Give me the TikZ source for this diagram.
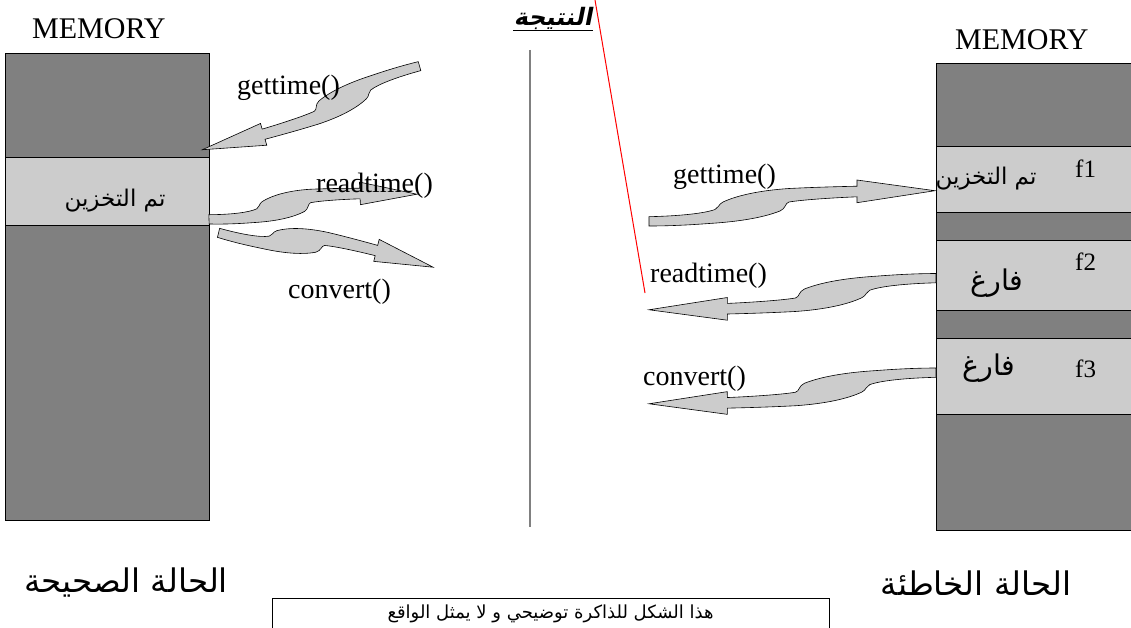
\documentclass[tikz,border=0pt]{standalone}
\usepackage{fontspec}
\setmainfont{Liberation Serif}
\newfontfamily\arabicfont[Script=Arabic]{DejaVu Sans}
\newfontfamily\arabicbf[Script=Arabic,FakeSlant=0.2]{DejaVu Sans Bold}
\TeXXeTstate=1
\usetikzlibrary{calc}
\definecolor{memgray}{HTML}{808080}
\definecolor{bandgray}{HTML}{CCCCCC}
\tikzset{
  memdark/.style={fill=memgray, draw=black, line width=1pt},
  memlight/.style={fill=bandgray, draw=black, line width=1pt},
  arrowsty/.style={fill=bandgray, draw=black, line width=0.6pt},
  lbl/.style={font=\fontsize{28}{30}\selectfont, inner sep=0pt, anchor=base west},
  flbl/.style={font=\fontsize{25}{27}\selectfont, inner sep=0pt, anchor=base west},
  memlbl/.style={font=\fontsize{30}{32}\selectfont, inner sep=0pt, anchor=base west},
  artxt/.style={font=\arabicfont\fontsize{23}{25}\selectfont, inner sep=0pt},
  arbig/.style={font=\arabicfont\fontsize{28.5}{30}\selectfont, inner sep=0pt},
  arstate/.style={font=\arabicfont\fontsize{32.5}{34}\selectfont, inner sep=0pt},
}
\newcommand\curvyarrow[2]{%
  \pgfpointdiff{\pgfpointanchor{#1}{center}}{\pgfpointanchor{#2}{center}}%
  \pgfgetlastxy{\cax}{\cay}%
  \pgfmathsetmacro\caang{atan2(\cay,\cax)}%
  \pgfmathsetmacro\calen{veclen(\cax,\cay)/287.57}%
  \begin{scope}[shift={(#1)}, rotate=\caang, xscale=\calen, rotate=-5.99]
    \path[arrowsty] (0,-4.8) .. controls (30,-5.5) and (55,-8) .. (66,-12)
      .. controls (70,-13.5) and (69,-17) .. (74,-19.5)
      .. controls (88,-26) and (110,-31) .. (140,-33)
      .. controls (170,-34.5) and (195,-35) .. (208,-35.3)
      -- (208,-41.5) -- (286,-30.8) -- (208,-18.8) -- (208,-24.7)
      .. controls (190,-24) and (155,-22) .. (140,-19.5)
      .. controls (136,-18.5) and (137,-13) .. (131,-10.5)
      .. controls (112,-3) and (85,0.5) .. (60,2)
      .. controls (40,3.5) and (20,4.5) .. (0,4.5) -- cycle;
  \end{scope}}
\begin{document}
\begin{tikzpicture}[x=1pt, y=-1pt]
\useasboundingbox (0,0) rectangle (1131,628);
% left memory
\draw[memdark] (5,54) rectangle (209,520);
\draw[memlight] (5,158) rectangle (209,226);
% right memory
\draw[memdark] (936,64) rectangle (1140,530);
\draw[memlight] (936,147) rectangle (1140,213);
\draw[memlight] (936,240) rectangle (1140,310);
\draw[memlight] (936,338) rectangle (1140,414);
% separator and red line
\coordinate (sepT) at (530,50);
\coordinate (sepB) at (530,527);
\draw[memgray, line width=1.5pt] (sepT) -- (sepB);
\coordinate (redT) at (595,0);
\coordinate (redB) at (645,293);
\draw[red, line width=1pt] (redT) -- (redB);
% arrow endpoints
\coordinate (lgT) at (419.5,66);  \coordinate (lgH) at (202,149);
\coordinate (lrT) at (209,219.5); \coordinate (lrH) at (417,195);
\coordinate (lcT) at (218.5,233); \coordinate (lcH) at (433,268);
\coordinate (rgT) at (649,221.5); \coordinate (rgH) at (935,191.5);
\coordinate (rrT) at (936,278);   \coordinate (rrH) at (649,309);
\coordinate (rcT) at (936,372.5); \coordinate (rcH) at (649,403);
\curvyarrow{lgT}{lgH}
\curvyarrow{lrT}{lrH}
\curvyarrow{lcT}{lcH}
\curvyarrow{rgT}{rgH}
\curvyarrow{rrT}{rrH}
\curvyarrow{rcT}{rcH}
% labels
\node[memlbl] (mem1) at (32,38.3) {MEMORY};
\node[memlbl] (mem2) at (955,50) {MEMORY};
\node[lbl] (lg) at (237,95) {gettime()};
\node[lbl] (lr) at (316,192.7) {readtime()};
\node[lbl] (lc) at (288,298) {convert()};
\node[lbl] (rg) at (673,183.3) {gettime()};
\node[lbl] (rr) at (650,282.7) {readtime()};
\node[lbl] (rc) at (643,385) {convert()};
\node[flbl] (f1) at (1075,177.3) {f1};
\node[flbl] (f2) at (1075,270.7) {f2};
\node[flbl] (f3) at (1075,377.3) {f3};
\node[artxt] (st1) at (115,201) {\beginR تم التخزين\endR};
\node[artxt] (st2) at (986,179) {\beginR تم التخزين\endR};
\node[arbig] (e2) at (997,283) {\beginR فارغ\endR};
\node[arbig] (e3) at (989,368) {\beginR فارغ\endR};
\node[font=\arabicbf\fontsize{24}{26}\selectfont, inner sep=0pt] (res) at (553,18) {\beginR النتيجة\endR};
\coordinate (ulL) at (513,30.5);
\coordinate (ulR) at (593,30.5);
\draw[line width=1.2pt] (ulL) -- (ulR);
\node[arstate] (ok) at (126,583) {\beginR الحالة الصحيحة\endR};
\node[arstate] (bad) at (976,583) {\beginR الحالة الخاطئة\endR};
\node[draw=black, line width=0.8pt, minimum width=557pt, minimum height=31pt, inner sep=0pt,
      font=\arabicfont\fontsize{18}{20}\selectfont] (note) at (550.5,613.5) {\beginR هذا الشكل للذاكرة توضيحي و لا يمثل الواقع\endR};
\end{tikzpicture}
\end{document}
